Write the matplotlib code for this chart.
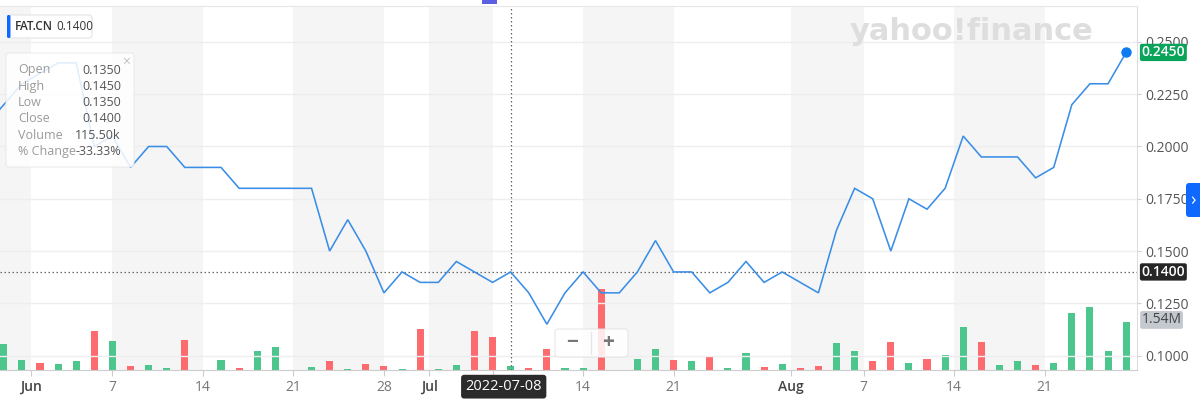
import matplotlib
matplotlib.use("Agg")
import matplotlib.pyplot as plt
import matplotlib.transforms as mtransforms
from matplotlib.patches import FancyBboxPatch, Rectangle
import numpy as np
import pandas as pd

plt.rcParams['font.family'] = ['Open Sans', 'DejaVu Sans']

# ---------------- data ----------------
dates = ['2022-05-27', '2022-05-30', '2022-05-31',
         '2022-06-01', '2022-06-02', '2022-06-03', '2022-06-06', '2022-06-07', '2022-06-08',
         '2022-06-09', '2022-06-10', '2022-06-13', '2022-06-14', '2022-06-15', '2022-06-16',
         '2022-06-17', '2022-06-20', '2022-06-21', '2022-06-22', '2022-06-23', '2022-06-24',
         '2022-06-27', '2022-06-28', '2022-06-29', '2022-06-30',
         '2022-07-04', '2022-07-05', '2022-07-06', '2022-07-07', '2022-07-08', '2022-07-11',
         '2022-07-12', '2022-07-13', '2022-07-14', '2022-07-15', '2022-07-18', '2022-07-19',
         '2022-07-20', '2022-07-21', '2022-07-22', '2022-07-25', '2022-07-26', '2022-07-27',
         '2022-07-28', '2022-07-29',
         '2022-08-02', '2022-08-03', '2022-08-04', '2022-08-05', '2022-08-08', '2022-08-09',
         '2022-08-10', '2022-08-11', '2022-08-12', '2022-08-15', '2022-08-16', '2022-08-17',
         '2022-08-18', '2022-08-19', '2022-08-22', '2022-08-23', '2022-08-24', '2022-08-25',
         '2022-08-26']

close = [0.210, 0.220, 0.230,
         0.235, 0.240, 0.240, 0.200, 0.205, 0.190,
         0.200, 0.200, 0.190, 0.190, 0.190, 0.180,
         0.180, 0.180, 0.180, 0.180, 0.150, 0.165,
         0.150, 0.130, 0.140, 0.135,
         0.135, 0.145, 0.140, 0.135, 0.140, 0.130,
         0.115, 0.130, 0.140, 0.130, 0.130, 0.140,
         0.155, 0.140, 0.140, 0.130, 0.135, 0.145,
         0.135, 0.140,
         0.135, 0.130, 0.160, 0.180, 0.175, 0.150,
         0.175, 0.170, 0.180, 0.205, 0.195, 0.195,
         0.195, 0.185, 0.190, 0.220, 0.230, 0.230,
         0.245]

volume_k = [500, 840, 333,
            226, 184, 281, 1250, 927, 129,
            162, 65, 959, 12, 313, 74,
            604, 753, 12, 87, 291, 32,
            203, 120, 32, 1324,
            32, 152, 1260, 1056, 115.5, 65,
            678, 65, 65, 2616, 10, 355,
            678, 333, 300, 452, 65, 539,
            97, 184,
            65, 129, 862, 623, 300, 895,
            216, 355, 475, 1389, 895, 152,
            300, 152, 216, 1841, 2035, 604,
            1540]

up_day = [1, 1, 1,
          0, 1, 1, 0, 1, 0,
          1, 1, 0, 1, 1, 0,
          1, 1, 1, 1, 0, 1,
          0, 0, 1, 0,
          1, 1, 0, 0, 1, 0,
          0, 1, 1, 0, 1, 1,
          1, 0, 1, 0, 1, 1,
          0, 1,
          0, 0, 1, 1, 0, 0,
          1, 0, 1, 1, 0, 1,
          1, 0, 1, 1, 1, 1,
          1]

tick_dates = ['2022-06-01', '2022-06-07', '2022-06-14', '2022-06-21', '2022-06-28',
              '2022-07-01', '2022-07-07', '2022-07-14', '2022-07-21',
              '2022-08-01', '2022-08-07', '2022-08-14', '2022-08-21']
tick_labels = ['Jun', '7', '14', '21', '28', 'Jul', '', '14', '21', 'Aug', '7', '14', '21']

price_ticks = [0.1000, 0.1250, 0.1500, 0.1750, 0.2000, 0.2250, 0.2500]

ticker = 'FAT.CN'
hover_date = '2022-07-08'
hover_info = [('Open', '0.1350'), ('High', '0.1450'), ('Low', '0.1350'),
              ('Close', '0.1400'), ('Volume', '115.50k'), ('% Change', '-33.33%')]
last_volume_label = '1.54M'

# ---------------- helpers ----------------
dt = pd.to_datetime(dates)
x = np.arange(len(dates))


def tick_pos(d, month_start):
    d = pd.Timestamp(d)
    nxt = int(np.searchsorted(dt.values, d.to_datetime64()))
    if (not month_start) and nxt < len(dt) and dt[nxt] == d:
        return float(nxt)
    return nxt - 0.5


tpos = [tick_pos(d, lab in ('Jun', 'Jul', 'Aug')) for d, lab in zip(tick_dates, tick_labels)]

# ---------------- figure ----------------
fig = plt.figure(figsize=(12, 4), dpi=100)
fig.patch.set_facecolor('white')
rect = [0, 30 / 400, 1137 / 1200, 364 / 400]
axv = fig.add_axes(rect)
ax = fig.add_axes(rect, sharex=axv)
ax.patch.set_visible(False)

xlim = (0.79, 63.6)
axv.set_xlim(*xlim)

# week bands
bounds = [xlim[0]] + tpos + [xlim[1]]
for i in range(len(bounds) - 1):
    if i % 2 == 0:
        axv.axvspan(bounds[i], bounds[i + 1], color='#f5f5f5', lw=0, zorder=0)

# volume bars
vol = np.array(volume_k) * 1000
cols = ['#4cc68d' if u else '#fe6b6f' for u in up_day]
axv.bar(x, vol, width=0.39, color=cols, zorder=2)
axv.set_ylim(0, 11.76e6)
axv.set_yticks([])
for s in axv.spines.values():
    s.set_visible(False)
axv.tick_params(axis='x', which='both', length=0, labelbottom=False)

# price line
ax.set_ylim(0.0931, 0.2672)
ax.set_yticks(price_ticks)
ax.set_yticklabels([f'{v:.4f}' for v in price_ticks])
ax.yaxis.tick_right()
ax.tick_params(axis='y', length=3, color='#d0d0d0', labelsize=10, labelcolor='#555555', pad=3)
ax.grid(axis='y', color='#eeeeee', lw=1, zorder=0)
ax.plot(x, close, color='#3a8ee6', lw=1.15, zorder=5, solid_joinstyle='miter')
ax.plot(x[-1], close[-1], 'o', color='#0a7cf0', ms=6.5, zorder=6)

ax.set_xticks(tpos)
ax.set_xticklabels(tick_labels)
ax.tick_params(axis='x', length=4, color='#cccccc', labelsize=10, labelcolor='#777777', pad=3)
for lab in ax.get_xticklabels():
    if lab.get_text() in ('Jun', 'Jul', 'Aug'):
        lab.set_fontweight('semibold')
        lab.set_color('#444444')

ax.spines['left'].set_visible(False)
ax.spines['top'].set_color('#e6e6e6')
ax.spines['right'].set_color('#dddddd')
ax.spines['bottom'].set_color('#cccccc')

# crosshair
hx = dates.index(hover_date)
hy = close[hx]
ax.axvline(hx, color='#666666', lw=0.9, ls=(0, (1.2, 2)), zorder=4)
ax.axhline(hy, color='#666666', lw=0.9, ls=(0, (1.2, 2)), zorder=4)

blend_y = mtransforms.blended_transform_factory(ax.transAxes, ax.transData)
ax.text(1.004, hy, f'{hy:.4f}', transform=blend_y, ha='left', va='center', fontsize=10,
        color='white', fontweight='semibold', zorder=10, clip_on=False,
        bbox=dict(boxstyle='round,pad=0.12,rounding_size=0.15', fc='#262626', ec='none'))
ax.text(1.004, close[-1], f'{close[-1]:.4f}', transform=blend_y, ha='left', va='center', fontsize=10,
        color='white', fontweight='semibold', zorder=10, clip_on=False,
        bbox=dict(boxstyle='round,pad=0.12,rounding_size=0.15', fc='#0aa35a', ec='none'))
blend_v = mtransforms.blended_transform_factory(axv.transAxes, axv.transData)
ax.text(1.004, vol[-1] * 1.05, last_volume_label, transform=blend_v, ha='left', va='center', fontsize=10,
        color='#444444', zorder=10, clip_on=False,
        bbox=dict(boxstyle='round,pad=0.1,rounding_size=0.15', fc='#c4c8cf', ec='none'))

blend_x = mtransforms.blended_transform_factory(ax.transData, ax.transAxes)
ax.annotate(hover_date, xy=(hx, 0), xycoords=blend_x, xytext=(-5, -12), textcoords='offset points',
            ha='center', va='center', fontsize=10.5, color='white', zorder=12, annotation_clip=False,
            bbox=dict(boxstyle='round,pad=0.3,rounding_size=0.2', fc='#2b2b2b', ec='none'))

# ---------------- overlay decorations (pixel space) ----------------
ov = fig.add_axes([0, 0, 1, 1])
ov.set_xlim(0, 1200)
ov.set_ylim(400, 0)
ov.axis('off')
ov.patch.set_visible(False)

# watermark
ov.text(972, 31, 'yahoo!finance', ha='center', va='center', fontsize=22, fontweight='bold',
        color='#dedede', family=['DejaVu Sans'])

# ticker chip
ov.add_patch(FancyBboxPatch((8, 15), 84, 23, boxstyle='round,pad=0,rounding_size=3',
                            fc='white', ec='#e4e4e4', lw=0.8))
ov.add_patch(FancyBboxPatch((7, 15), 3.5, 23, boxstyle='round,pad=0,rounding_size=1.5',
                            fc='#0f69ff', ec='none'))
ov.text(15, 27, ticker, ha='left', va='center', fontsize=8.5, fontweight='semibold', color='#333333')
ov.text(56, 27, '0.1400', ha='left', va='center', fontsize=8.5, color='#333333')

# tooltip
ov.add_patch(FancyBboxPatch((6, 53), 128, 114, boxstyle='round,pad=0,rounding_size=3',
                            fc='white', ec='#e8e8e8', lw=0.8, alpha=0.85))
for k, (lab, val) in enumerate(hover_info):
    yy = 70 + k * 16.3
    ov.text(18, yy, lab, ha='left', va='center', fontsize=9, color='#9a9a9a')
    ov.text(121, yy, val, ha='right', va='center', fontsize=9, color='#555555')
ov.text(126, 62, '×', ha='center', va='center', fontsize=10, color='#c0c0c0')

# zoom control
ov.add_patch(FancyBboxPatch((555, 329), 73, 28, boxstyle='round,pad=0,rounding_size=3',
                            fc='white', ec='#e2e2e2', lw=0.8, alpha=0.85))
ov.plot([591, 591], [332, 354], color='#e6e6e6', lw=1)
ov.text(572, 343, '−', ha='center', va='center', fontsize=15, fontweight='bold', color='#777777')
ov.text(608, 343, '+', ha='center', va='center', fontsize=15, fontweight='bold', color='#777777')

# right tab
ov.add_patch(FancyBboxPatch((1186, 183), 16, 34, boxstyle='round,pad=0,rounding_size=3',
                            fc='#0f69ff', ec='none'))
ov.text(1193, 200, '›', ha='center', va='center', fontsize=13, color='white')

# top marker
ov.add_patch(Rectangle((482, 0), 15, 4, fc='#5b5fe0', ec='none'))

fig.savefig('out.png', dpi=100, facecolor='white')
